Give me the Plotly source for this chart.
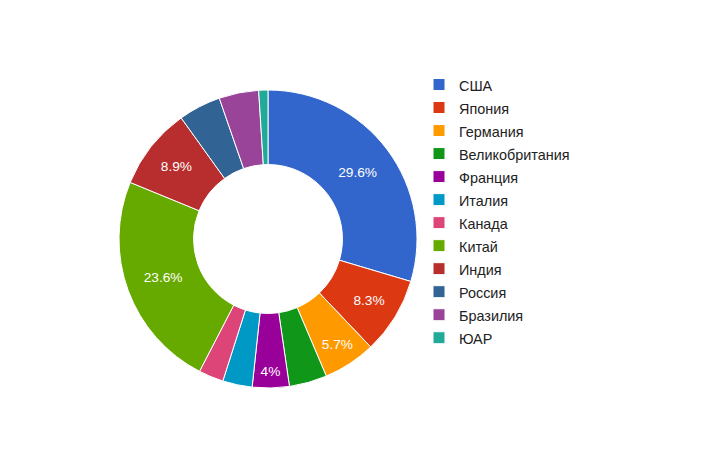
import plotly.graph_objects as go

countries = ["США", "Япония", "Германия", "Великобритания", "Франция", "Италия",
             "Канада", "Китай", "Индия", "Россия", "Бразилия", "ЮАР"]
shares = [29.6, 8.3, 5.7, 4.1, 4.0, 3.2, 2.7, 23.6, 8.9, 4.6, 4.3, 1.0]
show_label = [True, True, True, False, True, False, False, True, True, False, False, False]
colors = ["#3366cc", "#dc3912", "#ff9900", "#109618", "#990099", "#0099c6",
          "#dd4477", "#66aa00", "#b82e2e", "#316395", "#994499", "#22aa99"]

# page body has an 8px margin, so the figure is placed at (8, 8)
OFF = 8
W, H = 703 - OFF, 456 - OFF
cx, cy, r = 268 - OFF, 239 - OFF, 149

legend_names = ['<span style="font-size:14.4px">%s</span>' % c for c in countries]
templates = ["%{percent}" if s else "" for s in show_label]

fig = go.Figure(go.Pie(
    labels=legend_names,
    values=shares,
    sort=False,
    direction="clockwise",
    rotation=0,
    hole=0.5,
    marker=dict(colors=colors, line=dict(color="white", width=1)),
    texttemplate=templates,
    textposition="inside",
    insidetextorientation="horizontal",
    textfont=dict(color="white", size=13.7, family="Arial, Liberation Sans, sans-serif"),
    domain=dict(x=[(cx - r) / W, (cx + r) / W], y=[(H - cy - r) / H, (H - cy + r) / H]),
))

fig.update_layout(
    width=W, height=H,
    margin=dict(l=0, r=0, t=0, b=0),
    paper_bgcolor="white",
    font=dict(family="Arial, Liberation Sans, sans-serif", color="#222222"),
    showlegend=True,
    legend=dict(
        x=(460 - OFF - 41) / W, xanchor="left",
        y=1 - 60 / H, yanchor="top",
        font=dict(size=15.4, color="#222222"),
        bgcolor="rgba(0,0,0,0)",
        itemclick=False,
    ),
)

fig.write_html("out.html")
